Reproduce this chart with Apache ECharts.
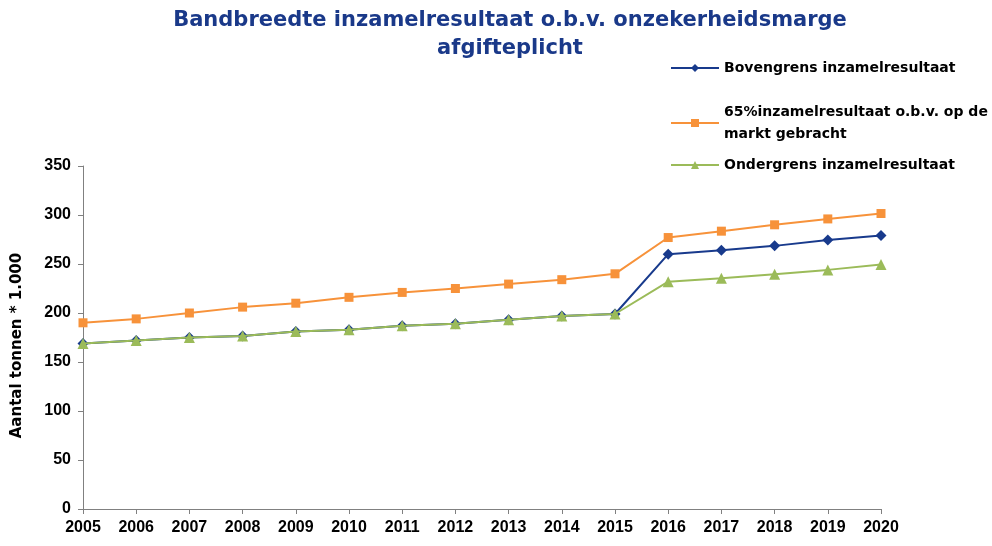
<!DOCTYPE html>
<html>
<head>
<meta charset="utf-8">
<script src="https://cdn.jsdelivr.net/npm/echarts@6/dist/echarts.min.js"></script>
<style>
  html, body { margin: 0; padding: 0; background: #fff; }
  #chart { width: 992px; height: 546px; }
</style>
</head>
<body>
<div id="chart"></div>
<script>
// Jaren op de x-as
const years = ['2005', '2006', '2007', '2008', '2009', '2010', '2011', '2012',
  '2013', '2014', '2015', '2016', '2017', '2018', '2019', '2020'];

// Waarden (tonnen * 1.000)
const bovengrens = [169, 172, 175, 176.5, 181, 183, 187, 189, 193, 197, 199, 260, 264, 268.5, 274.5, 279];
const marktGebracht = [190, 194, 200, 206, 210, 216, 221, 225, 229.5, 234, 240, 277, 283.5, 290, 296, 301.5];
const ondergrens = [169, 172, 175, 176.5, 181, 183, 187, 189, 193, 197, 199, 232, 235.5, 239.5, 244, 249.5];

const seriesNames = [
  'Bovengrens inzamelresultaat',
  '65%inzamelresultaat o.b.v. op de\nmarkt gebracht',
  'Ondergrens inzamelresultaat'
];

const FONT = '"Liberation Sans", Arial, sans-serif';
const WIDE = '"DejaVu Sans", sans-serif';

const chart = echarts.init(document.getElementById('chart'));

function legendFor(name, top) {
  return {
    data: [name],
    left: 665,
    top: top,
    itemWidth: 48,
    itemHeight: 10,
    selectedMode: false,
    textStyle: { fontFamily: WIDE, fontWeight: 'bold', fontSize: 14, color: '#000', lineHeight: 22 }
  };
}

const option = {
  animation: false,
  title: {
    text: 'Bandbreedte inzamelresultaat o.b.v. onzekerheidsmarge\nafgifteplicht',
    left: 505,
    textAlign: 'center',
    top: 2,
    textStyle: { fontFamily: WIDE, fontWeight: 'bold', fontSize: 21, color: '#1a3989', lineHeight: 28 }
  },
  legend: [
    legendFor(seriesNames[0], 52),
    legendFor(seriesNames[1], 96),
    legendFor(seriesNames[2], 149)
  ],
  grid: { left: 83, right: 111, top: 166, bottom: 37 },
  xAxis: {
    type: 'category',
    data: years,
    boundaryGap: false,
    axisLine: { lineStyle: { color: '#808080' } },
    axisTick: { alignWithLabel: true, length: 5, lineStyle: { color: '#808080' } },
    axisLabel: { fontFamily: FONT, fontWeight: 'bold', fontSize: 16, color: '#000', margin: 11 }
  },
  yAxis: {
    type: 'value',
    min: 0,
    max: 350,
    interval: 50,
    name: 'Aantal tonnen * 1.000',
    nameLocation: 'middle',
    nameGap: 58,
    nameTextStyle: { fontFamily: WIDE, fontWeight: 'bold', fontSize: 15, color: '#000', padding: [0, 16, 0, 0] },
    axisLine: { show: true, lineStyle: { color: '#808080' } },
    axisTick: { show: true, length: 5, lineStyle: { color: '#808080' } },
    splitLine: { show: false },
    axisLabel: { fontFamily: FONT, fontWeight: 'bold', fontSize: 16, color: '#000', margin: 12 }
  },
  series: [
    {
      name: seriesNames[0],
      type: 'line',
      data: bovengrens,
      symbol: 'diamond',
      symbolSize: 11,
      color: '#183a8c',
      lineStyle: { width: 2 },
      z: 3
    },
    {
      name: seriesNames[1],
      type: 'line',
      data: marktGebracht,
      symbol: 'rect',
      symbolSize: 9,
      color: '#f7923a',
      lineStyle: { width: 2 },
      z: 2
    },
    {
      name: seriesNames[2],
      type: 'line',
      data: ondergrens,
      symbol: 'triangle',
      symbolSize: 11,
      color: '#9bbb59',
      lineStyle: { width: 2 },
      z: 4
    }
  ]
};

chart.setOption(option);
</script>
</body>
</html>
